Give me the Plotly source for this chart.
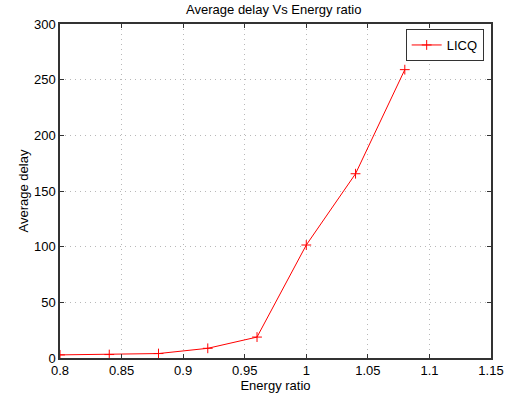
import plotly.graph_objects as go

energy_ratio = [0.80, 0.84, 0.88, 0.92, 0.96, 1.00, 1.04, 1.08]
avg_delay = [2.8, 3.1, 4.0, 8.7, 18.8, 101.5, 165.5, 259.0]

x_ticks = [0.8, 0.85, 0.9, 0.95, 1.0, 1.05, 1.1, 1.15]
x_labels = ['0.8', '0.85', '0.9', '0.95', '1', '1.05', '1.1', '1.15']
y_ticks = [0, 50, 100, 150, 200, 250, 300]

fig = go.Figure()
fig.add_trace(go.Scatter(
    x=energy_ratio, y=avg_delay, mode='lines+markers', name='LICQ',
    line=dict(color='#ff0000', width=1),
    marker=dict(symbol='cross-thin', size=7, line=dict(color='#ff0000', width=1))
))

axis_common = dict(
    showline=True, linecolor='#333333', linewidth=1.5, mirror='ticks',
    ticks='inside', ticklen=4, tickcolor='#333333', automargin=False,
    showgrid=True, gridcolor='#b8b8b8', griddash='1px,4px', gridwidth=1,
    zeroline=False, tickfont=dict(size=13, color='black'),
)

fig.update_layout(
    width=507, height=401,
    paper_bgcolor='white', plot_bgcolor='white',
    font=dict(family='Liberation Sans, Arial, sans-serif', color='black'),
    margin=dict(l=60, r=16, t=24, b=43),
    title=dict(text='Average delay Vs Energy ratio', x=0.54, xanchor='center',
               y=0.977, yanchor='middle', font=dict(size=13)),
    xaxis=dict(range=[0.8, 1.15], tickvals=x_ticks, ticktext=x_labels,
               title=dict(text='Energy ratio', font=dict(size=13), standoff=4),
               **axis_common),
    yaxis=dict(range=[0, 300], tickvals=y_ticks,
               title=dict(text='Average delay', font=dict(size=13), standoff=2),
               **axis_common),
    legend=dict(x=0.983, y=0.985, xanchor='right', yanchor='top',
                bordercolor='#333333', borderwidth=1, bgcolor='white',
                font=dict(size=13), itemwidth=30),
    showlegend=True,
)

fig.write_html("out.html", config={'displayModeBar': False},
               post_script="document.body.style.margin='0';")
